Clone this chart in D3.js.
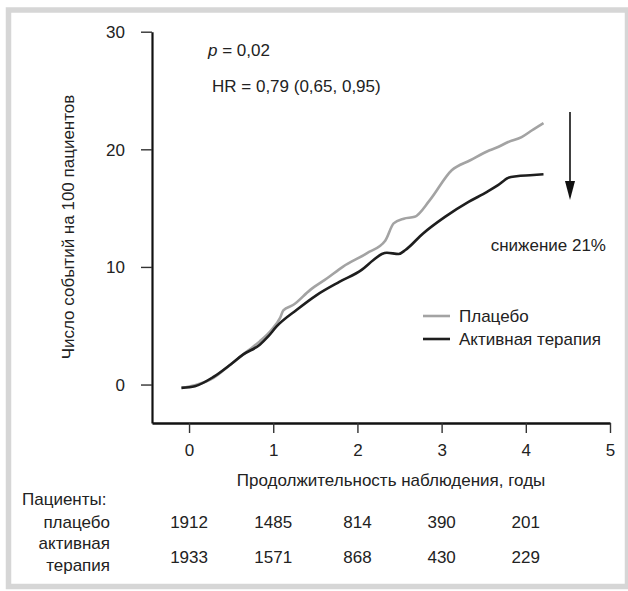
<!DOCTYPE html>
<html>
<head>
<meta charset="utf-8">
<script src="https://cdn.jsdelivr.net/npm/d3@7"></script>
<style>
  body { margin: 0; background: #fff; }
  svg text { font-family: "Liberation Sans", Arial, sans-serif; fill: #222; }
</style>
</head>
<body>
<div id="chart"></div>
<script>
// data (years, events per 100 patients)
const placeboYears = [-0.09, 0.07, 0.29, 0.49, 0.69, 0.84, 0.98, 1.08, 1.12, 1.24, 1.44, 1.64, 1.83, 2.11, 2.33, 2.43, 2.55, 2.68, 2.86, 3.12, 3.34, 3.57, 3.67, 3.79, 3.95, 4.07, 4.21];
const placeboRate  = [-0.28, -0.06, 0.56, 1.69, 2.82, 3.67, 4.66, 5.65, 6.3, 6.78, 8.05, 9.04, 10.03, 11.16, 12.23, 13.7, 14.1, 14.26, 15.68, 18.22, 19.07, 19.92, 20.2, 20.62, 21.04, 21.6, 22.23];
const activeYears  = [-0.09, 0.07, 0.29, 0.49, 0.64, 0.84, 0.94, 1.04, 1.28, 1.52, 1.79, 2.05, 2.19, 2.29, 2.35, 2.49, 2.57, 2.78, 3.04, 3.32, 3.54, 3.67, 3.79, 3.89, 4.05, 4.21];
const activeRate   = [-0.28, -0.14, 0.65, 1.69, 2.54, 3.39, 4.09, 4.94, 6.36, 7.63, 8.75, 9.75, 10.59, 11.1, 11.21, 11.1, 11.44, 12.85, 14.26, 15.53, 16.38, 16.95, 17.57, 17.71, 17.8, 17.88];

const xTicks = [0, 1, 2, 3, 4, 5];
const yTicks = [0, 10, 20, 30];
const atRiskYears = [0, 1, 2, 3, 4];
const atRiskPlacebo = [1912, 1485, 814, 390, 201];
const atRiskActive = [1933, 1571, 868, 430, 229];

const W = 628, H = 591;
const FS = 17;
const svg = d3.select("#chart").append("svg").attr("width", W).attr("height", H);

// outer light-grey frame
svg.append("rect")
    .attr("x", 8.5).attr("y", 10).attr("width", 619).attr("height", 576.5)
    .attr("fill", "none").attr("stroke", "#d6d6d6").attr("stroke-width", 5.5);

const x = d3.scaleLinear().domain([-0.44, 5]).range([152, 610]);
const y = d3.scaleLinear().domain([-3.27, 30]).range([423, 31.7]);

// y axis
const gy = svg.append("g").attr("transform", "translate(152,0)")
    .call(d3.axisLeft(y).tickValues(yTicks).tickSize(11).tickSizeOuter(0).tickPadding(16));
gy.select(".domain").attr("stroke", "#111").attr("stroke-width", 2.2);
gy.selectAll(".tick line").attr("stroke", "#333").attr("stroke-width", 1.4);
gy.selectAll(".tick text").attr("font-size", FS).attr("fill", "#222")
    .attr("font-family", "Liberation Sans, Arial, sans-serif").attr("dy", "0.35em");

// x axis
const gx = svg.append("g").attr("transform", "translate(0,423)")
    .call(d3.axisBottom(x).tickValues(xTicks).tickFormat(d3.format("d"))
        .tickSize(10).tickSizeOuter(0).tickPadding(12));
gx.select(".domain").attr("stroke", "#111").attr("stroke-width", 2.4);
gx.selectAll(".tick line").attr("stroke", "#333").attr("stroke-width", 1.4);
gx.selectAll(".tick text").attr("font-size", FS).attr("fill", "#222")
    .attr("font-family", "Liberation Sans, Arial, sans-serif").attr("y", 33).attr("dy", 0);

// curves
const line = d3.line().x(d => x(d[0])).y(d => y(d[1])).curve(d3.curveMonotoneX);
const placebo = placeboYears.map((t, i) => [t, placeboRate[i]]);
const active = activeYears.map((t, i) => [t, activeRate[i]]);

svg.append("path").datum(placebo).attr("d", line)
    .attr("fill", "none").attr("stroke", "#a3a3a3").attr("stroke-width", 2.6);
svg.append("path").datum(active).attr("d", line)
    .attr("fill", "none").attr("stroke", "#1e1e1e").attr("stroke-width", 2.6);

// axis titles
svg.append("text")
    .attr("transform", "translate(74,227) rotate(-90)")
    .attr("text-anchor", "middle").attr("font-size", FS)
    .text("Число событий на 100 пациентов");

svg.append("text")
    .attr("x", 391).attr("y", 486).attr("text-anchor", "middle").attr("font-size", FS)
    .text("Продолжительность наблюдения, годы");

// statistics
const p = svg.append("text").attr("x", 208).attr("y", 56).attr("font-size", FS);
p.append("tspan").attr("font-style", "italic").text("p");
p.append("tspan").text(" = 0,02");
svg.append("text").attr("x", 212).attr("y", 92).attr("font-size", FS)
    .text("HR = 0,79 (0,65, 0,95)");

// reduction arrow
svg.append("line")
    .attr("x1", 570).attr("x2", 570).attr("y1", 112).attr("y2", 182)
    .attr("stroke", "#111").attr("stroke-width", 1.6);
svg.append("path").attr("d", "M565,181 L575,181 L570,200 Z").attr("fill", "#111");
svg.append("text").attr("x", 606).attr("y", 251).attr("text-anchor", "end").attr("font-size", FS)
    .text("снижение 21%");

// legend
const legend = [["Плацебо", "#a3a3a3", 316], ["Активная терапия", "#1e1e1e", 339]];
legend.forEach(([name, col, ly]) => {
  svg.append("line").attr("x1", 423).attr("x2", 450).attr("y1", ly).attr("y2", ly)
      .attr("stroke", col).attr("stroke-width", 2.6);
  svg.append("text").attr("x", 459).attr("y", ly + 6).attr("font-size", FS).text(name);
});

// patients at risk table
svg.append("text").attr("x", 22).attr("y", 505).attr("font-size", FS).text("Пациенты:");
svg.append("text").attr("x", 110).attr("y", 528).attr("text-anchor", "end").attr("font-size", FS).text("плацебо");
svg.append("text").attr("x", 110).attr("y", 549).attr("text-anchor", "end").attr("font-size", FS).text("активная");
svg.append("text").attr("x", 110).attr("y", 571).attr("text-anchor", "end").attr("font-size", FS).text("терапия");

svg.append("g").selectAll("text").data(atRiskYears).join("text")
    .attr("x", d => x(d)).attr("y", 528).attr("text-anchor", "middle").attr("font-size", FS)
    .text((d, i) => atRiskPlacebo[i]);
svg.append("g").selectAll("text").data(atRiskYears).join("text")
    .attr("x", d => x(d)).attr("y", 563).attr("text-anchor", "middle").attr("font-size", FS)
    .text((d, i) => atRiskActive[i]);
</script>
</body>
</html>
